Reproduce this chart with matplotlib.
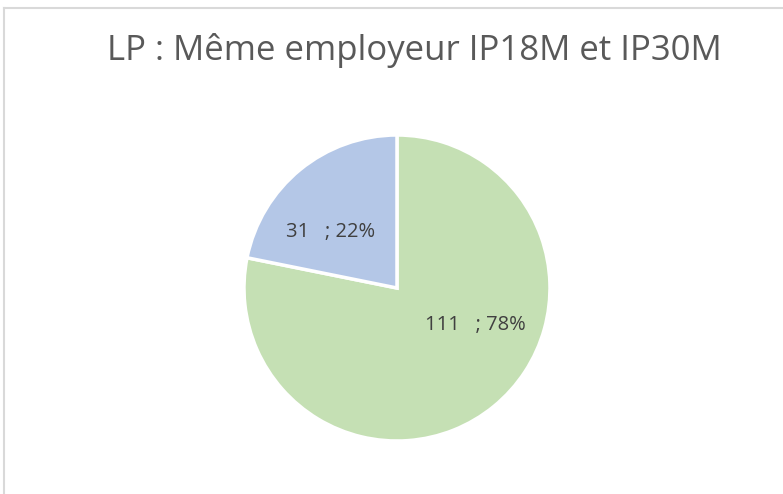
import matplotlib.pyplot as plt
from matplotlib.lines import Line2D

# Data
labels = ['Oui', 'Non']
values = [111, 31]
colors = ['#c5e0b4', '#b4c7e7']
title = 'LP : Même employeur IP18M et IP30M'

total = sum(values)
pcts = [round(v / total * 100) for v in values]

fig = plt.figure(figsize=(7.83, 4.94), dpi=100)
fig.patch.set_facecolor('white')

# Light gray frame (top and left edges visible)
fig.add_artist(Line2D([4 / 783, 4 / 783], [0, 1 - 8 / 494], transform=fig.transFigure,
                      color='#d9d9d9', lw=1.5))
fig.add_artist(Line2D([4 / 783, 1], [1 - 8 / 494, 1 - 8 / 494], transform=fig.transFigure,
                      color='#d9d9d9', lw=1.5))

fig.text(414 / 783, 1 - 50 / 494, title, ha='center', va='center',
         fontsize=25, color='#595959', family='Open Sans')

ax = fig.add_axes([0.3116, 0.1073, 0.3908, 0.6194])
wedges, _ = ax.pie(values, colors=colors, startangle=90, counterclock=False,
                   wedgeprops=dict(edgecolor='white', linewidth=2.5))
ax.set_xlim(-1.0, 1.0)
ax.set_ylim(-1.0, 1.0)
ax.set_aspect('equal')
ax.axis('off')

# Data labels (best-fit positions like the original)
label_pos = [(0.51, -0.242), (-0.431, 0.366)]
for (x, y), v, p in zip(label_pos, values, pcts):
    ax.text(x, y, f'{v}   ; {p}%', ha='center', va='center',
            fontsize=14.5, color='#404040', family='Open Sans')

plt.savefig('out.png', dpi=100, facecolor='white')
